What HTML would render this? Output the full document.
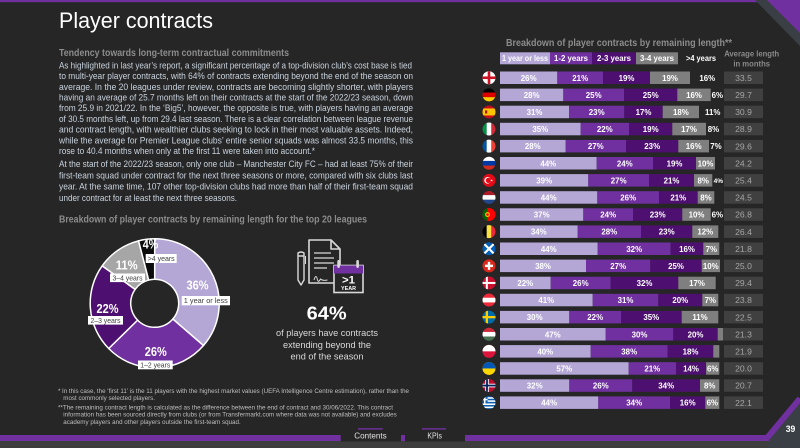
<!DOCTYPE html>
<html><head><meta charset="utf-8"><style>
html,body{margin:0;padding:0;background:#262626;}
svg{display:block;}
text{font-family:"Liberation Sans",Arial,sans-serif;}
.p{font-size:9.4px;fill:#c9d3de;}
.h{font-size:10px;font-weight:bold;fill:#8c8c8c;}
.f{font-size:6.4px;fill:#bfbfbf;}
.b{font-size:7.9px;font-weight:bold;fill:#fff;text-anchor:middle;}
.a{font-size:8.6px;fill:#a6a6a6;text-anchor:middle;}
.lb{font-size:7.4px;fill:#404040;text-anchor:middle;}
.dp{font-size:12.5px;font-weight:bold;fill:#fff;text-anchor:middle;}
</style></head><body>
<svg width="800" height="448" viewBox="0 0 800 448" xmlns="http://www.w3.org/2000/svg">
<defs><clipPath id="fc"><circle cx="0" cy="0" r="6.5"/></clipPath></defs>
<rect width="800" height="448" fill="#262626"/>
<!-- top decoration -->
<rect x="0" y="0" width="758" height="2.2" fill="#7030a0"/>
<polygon points="755,0 800,0 800,46" fill="#3a3f45"/>
<polygon points="767,0 800,0 800,33" fill="#7030a0"/>

<!-- title -->
<text x="59" y="28" font-size="22.3" fill="#ffffff" textLength="154" lengthAdjust="spacingAndGlyphs">Player contracts</text>
<text class="h" x="59" y="56" textLength="230" lengthAdjust="spacingAndGlyphs">Tendency towards long-term contractual commitments</text>

<text class="p" x="59" y="68.4" textLength="353" lengthAdjust="spacingAndGlyphs">As highlighted in last year’s report, a significant percentage of a top-division club’s cost base is tied</text>
<text class="p" x="59" y="79.1" textLength="354" lengthAdjust="spacingAndGlyphs">to multi-year player contracts, with 64% of contracts extending beyond the end of the season on</text>
<text class="p" x="59" y="89.8" textLength="354" lengthAdjust="spacingAndGlyphs">average. In the 20 leagues under review, contracts are becoming slightly shorter, with players</text>
<text class="p" x="59" y="100.5" textLength="354" lengthAdjust="spacingAndGlyphs">having an average of 25.7 months left on their contracts at the start of the 2022/23 season, down</text>
<text class="p" x="59" y="111.2" textLength="354" lengthAdjust="spacingAndGlyphs">from 25.9 in 2021/22. In the ‘Big5’, however, the opposite is true, with players having an average</text>
<text class="p" x="59" y="121.9" textLength="354" lengthAdjust="spacingAndGlyphs">of 30.5 months left, up from 29.4 last season. There is a clear correlation between league revenue</text>
<text class="p" x="59" y="132.6" textLength="354" lengthAdjust="spacingAndGlyphs">and contract length, with wealthier clubs seeking to lock in their most valuable assets. Indeed,</text>
<text class="p" x="59" y="143.3" textLength="354" lengthAdjust="spacingAndGlyphs">while the average for Premier League clubs’ entire senior squads was almost 33.5 months, this</text>
<text class="p" x="59" y="154.0" textLength="256" lengthAdjust="spacingAndGlyphs">rose to 40.4 months when only at the first 11 were taken into account.*</text>
<text class="p" x="59" y="167.2" textLength="354" lengthAdjust="spacingAndGlyphs">At the start of the 2022/23 season, only one club – Manchester City FC – had at least 75% of their</text>
<text class="p" x="59" y="178.4" textLength="354" lengthAdjust="spacingAndGlyphs">first-team squad under contract for the next three seasons or more, compared with six clubs last</text>
<text class="p" x="59" y="189.6" textLength="354" lengthAdjust="spacingAndGlyphs">year. At the same time, 107 other top-division clubs had more than half of their first-team squad</text>
<text class="p" x="59" y="200.8" textLength="178" lengthAdjust="spacingAndGlyphs">under contract for at least the next three seasons.</text>

<text class="h" x="59" y="222.5" textLength="308" lengthAdjust="spacingAndGlyphs">Breakdown of player contracts by remaining length for the top 20 leagues</text>

<!-- donut -->
<g stroke="#ffffff" stroke-width="1.5" stroke-linejoin="round">
<path d="M154.7 238.8 A64.5 64.5 0 0 1 203.46 345.53 L172.84 319.01 A24 24 0 0 0 154.7 279.3 Z" fill="#b4a7d6"/>
<path d="M203.46 345.53 A64.5 64.5 0 0 1 108.69 348.51 L137.58 320.12 A24 24 0 0 0 172.84 319.01 Z" fill="#7030a0"/>
<path d="M108.69 348.51 A64.5 64.5 0 0 1 102.19 265.84 L135.16 289.36 A24 24 0 0 0 137.58 320.12 Z" fill="#4e1070"/>
<path d="M102.19 265.84 A64.5 64.5 0 0 1 138.55 240.86 L148.69 280.07 A24 24 0 0 0 135.16 289.36 Z" fill="#a6a6a6"/>
<path d="M138.55 240.86 A64.5 64.5 0 0 1 154.7 238.8 L154.7 279.3 A24 24 0 0 0 148.69 280.07 Z" fill="#0c0c0c"/>
</g>
<text class="dp" x="197.5" y="289.5" textLength="22" lengthAdjust="spacingAndGlyphs">36%</text>
<text class="dp" x="155.8" y="356.2" textLength="22" lengthAdjust="spacingAndGlyphs">26%</text>
<text class="dp" x="107.5" y="312.8" textLength="22" lengthAdjust="spacingAndGlyphs">22%</text>
<text class="dp" x="126.7" y="269.5" textLength="22" lengthAdjust="spacingAndGlyphs" fill="#f0f0f0">11%</text>
<text class="dp" x="150.5" y="248.5" textLength="15.5" lengthAdjust="spacingAndGlyphs">4%</text>
<rect x="181.7" y="296" width="48.3" height="9.3" fill="#fff"/>
<text class="lb" x="205.8" y="303.2" textLength="44" lengthAdjust="spacingAndGlyphs">1 year or less</text>
<rect x="138" y="360.5" width="34.7" height="8.8" fill="#fff"/>
<text class="lb" x="155.3" y="367.4" textLength="30" lengthAdjust="spacingAndGlyphs">1–2 years</text>
<rect x="88" y="316" width="35" height="8.6" fill="#fff"/>
<text class="lb" x="105.5" y="322.8" textLength="30" lengthAdjust="spacingAndGlyphs">2–3 years</text>
<rect x="110" y="273.5" width="35" height="8.6" fill="#fff"/>
<text class="lb" x="127.5" y="280.3" textLength="30" lengthAdjust="spacingAndGlyphs">3–4 years</text>
<rect x="145.7" y="254" width="31" height="9" fill="#fff"/>
<text class="lb" x="161.2" y="261" textLength="27" lengthAdjust="spacingAndGlyphs">&gt;4 years</text>

<!-- icon -->
<g fill="none" stroke="#d9d9d9" stroke-width="1.6" stroke-linejoin="round">
<path d="M309 240 H331 L340 249 V283 H309 Z"/>
<path d="M331 240 V249 H340"/>
<path d="M314 253 H331 M314 258 H334 M314 263 H334 M314 268 H327" stroke-width="1.3"/>
<path d="M314 280 q2 -7 3.5 0 q1 3 3 -1 q2 2 7 1" stroke-width="1"/>
<path d="M298 256 h6 v24 l-3 5 l-3 -5 z" stroke-width="1.4"/>
<path d="M298 256 v-3 q3 -2 6 0 v3" stroke-width="1.4"/>
<path d="M305.5 256 v8" stroke-width="1"/>
</g>
<rect x="334" y="265.5" width="29" height="27" fill="#262626" stroke="#d9d9d9" stroke-width="1.6"/>
<rect x="334" y="265.5" width="29" height="8" fill="#7030a0"/>
<rect x="337.3" y="260" width="2.6" height="8" rx="1.2" fill="#d9d9d9"/>
<rect x="356.3" y="260" width="2.6" height="8" rx="1.2" fill="#d9d9d9"/>
<text x="348.5" y="283.5" font-size="11" font-weight="bold" fill="#fff" text-anchor="middle" textLength="13" lengthAdjust="spacingAndGlyphs">&gt;1</text>
<text x="348.5" y="290" font-size="5.6" font-weight="bold" fill="#fff" text-anchor="middle" textLength="15" lengthAdjust="spacingAndGlyphs">YEAR</text>

<text x="326.7" y="319.5" font-size="18.5" font-weight="bold" fill="#fff" text-anchor="middle" textLength="40" lengthAdjust="spacingAndGlyphs">64%</text>
<text x="327" y="336" font-size="9.4" fill="#d9d9d9" text-anchor="middle" textLength="102" lengthAdjust="spacingAndGlyphs">of players have contracts</text>
<text x="327" y="348" font-size="9.4" fill="#d9d9d9" text-anchor="middle" textLength="88" lengthAdjust="spacingAndGlyphs">extending beyond the</text>
<text x="327" y="359.5" font-size="9.4" fill="#d9d9d9" text-anchor="middle" textLength="73" lengthAdjust="spacingAndGlyphs">end of the season</text>

<!-- footnotes -->
<text class="f" x="58" y="393">*</text>
<text class="f" x="62" y="393" textLength="347" lengthAdjust="spacingAndGlyphs">In this case, the ‘first 11’ is the 11 players with the highest market values (UEFA Intelligence Centre estimation), rather than the</text>
<text class="f" x="63.3" y="400" textLength="91.7" lengthAdjust="spacingAndGlyphs">most commonly selected players.</text>
<text class="f" x="58" y="409.7" textLength="335" lengthAdjust="spacingAndGlyphs">**The remaining contract length is calculated as the difference between the end of contract and 30/06/2022. This contract</text>
<text class="f" x="63.3" y="416.7" textLength="333.4" lengthAdjust="spacingAndGlyphs">information has been sourced directly from clubs (or from Transfermarkt.com where data was not available) and excludes</text>
<text class="f" x="63.3" y="424" textLength="177.4" lengthAdjust="spacingAndGlyphs">academy players and other players outside the first-team squad.</text>

<!-- right chart header -->
<text class="h" x="506" y="46" textLength="226" lengthAdjust="spacingAndGlyphs">Breakdown of player contracts by  remaining length**</text>
<rect x="500" y="52.3" width="50" height="12" fill="#b4a7d6"/>
<rect x="550" y="52.3" width="42" height="12" fill="#7030a0"/>
<rect x="592" y="52.3" width="44" height="12" fill="#4e1070"/>
<rect x="636" y="52.3" width="42" height="12" fill="#7f7f7f"/>
<text class="b" x="525" y="61.2" textLength="46" lengthAdjust="spacingAndGlyphs">1 year or less</text>
<text class="b" x="571" y="61.2" textLength="34" lengthAdjust="spacingAndGlyphs">1-2 years</text>
<text class="b" x="614" y="61.2" textLength="34" lengthAdjust="spacingAndGlyphs">2-3 years</text>
<text class="b" x="657" y="61.2" textLength="34" lengthAdjust="spacingAndGlyphs">3-4 years</text>
<text class="b" x="701" y="61.2" textLength="30" lengthAdjust="spacingAndGlyphs">&gt;4 years</text>
<text x="751.7" y="56.3" font-size="8.6" font-weight="bold" fill="#8a8a8a" text-anchor="middle" textLength="55" lengthAdjust="spacingAndGlyphs">Average length</text>
<text x="751.7" y="66.3" font-size="8.6" font-weight="bold" fill="#8a8a8a" text-anchor="middle" textLength="36.7" lengthAdjust="spacingAndGlyphs">in months</text>

<!-- rows -->
<!-- 0 England -->
<g transform="translate(0,71.5)">
<g transform="translate(489,6.25)" clip-path="url(#fc)"><rect x="-7" y="-7" width="14" height="14" fill="#fff"/><rect x="-1.3" y="-7" width="2.6" height="14" fill="#ce1124"/><rect x="-7" y="-1.3" width="14" height="2.6" fill="#ce1124"/></g>
<rect x="500" y="0" width="57.3" height="12.5" fill="#b4a7d6"/><rect x="557.3" y="0" width="45.7" height="12.5" fill="#7030a0"/><rect x="603" y="0" width="47" height="12.5" fill="#4e1070"/><rect x="650" y="0" width="40" height="12.5" fill="#7f7f7f"/>
<text class="b" x="528.7" y="9.3">26%</text><text class="b" x="580.2" y="9.3">21%</text><text class="b" x="626.5" y="9.3">19%</text><text class="b" x="670" y="9.3">19%</text><text class="b" x="707.3" y="9.3">16%</text>
<rect x="724" y="0" width="39" height="12.5" fill="#404040"/><text class="a" x="743.5" y="9.4">33.5</text>
</g>
<!-- 1 Germany -->
<g transform="translate(0,88.6)">
<g transform="translate(489,6.25)" clip-path="url(#fc)"><rect x="-7" y="-7" width="14" height="4.7" fill="#000"/><rect x="-7" y="-2.33" width="14" height="4.7" fill="#dd0000"/><rect x="-7" y="2.33" width="14" height="4.7" fill="#ffce00"/></g>
<rect x="500" y="0" width="63.3" height="12.5" fill="#b4a7d6"/><rect x="563.3" y="0" width="60.7" height="12.5" fill="#7030a0"/><rect x="624" y="0" width="53.3" height="12.5" fill="#4e1070"/><rect x="677.3" y="0" width="33.4" height="12.5" fill="#7f7f7f"/>
<text class="b" x="531.7" y="9.3">28%</text><text class="b" x="593.7" y="9.3">25%</text><text class="b" x="650.7" y="9.3">25%</text><text class="b" x="694" y="9.3">16%</text><text class="b" x="717.3" y="9.3">6%</text>
<rect x="724" y="0" width="39" height="12.5" fill="#404040"/><text class="a" x="743.5" y="9.4">29.7</text>
</g>
<!-- 2 Spain -->
<g transform="translate(0,105.7)">
<g transform="translate(489,6.25)" clip-path="url(#fc)"><rect x="-7" y="-7" width="14" height="14" fill="#c60b1e"/><rect x="-7" y="-3.5" width="14" height="7" fill="#ffc400"/><rect x="-4" y="-1.6" width="2.2" height="3.2" fill="#ad1519"/></g>
<rect x="500" y="0" width="69" height="12.5" fill="#b4a7d6"/><rect x="569" y="0" width="55.3" height="12.5" fill="#7030a0"/><rect x="624.3" y="0" width="38.4" height="12.5" fill="#4e1070"/><rect x="662.7" y="0" width="36.3" height="12.5" fill="#7f7f7f"/>
<text class="b" x="534.5" y="9.3">31%</text><text class="b" x="596.7" y="9.3">23%</text><text class="b" x="643.5" y="9.3">17%</text><text class="b" x="680.9" y="9.3">18%</text><text class="b" x="712.7" y="9.3">11%</text>
<rect x="724" y="0" width="39" height="12.5" fill="#404040"/><text class="a" x="743.5" y="9.4">30.9</text>
</g>
<!-- 3 Italy -->
<g transform="translate(0,122.8)">
<g transform="translate(489,6.25)" clip-path="url(#fc)"><rect x="-7" y="-7" width="4.7" height="14" fill="#009246"/><rect x="-2.33" y="-7" width="4.7" height="14" fill="#fff"/><rect x="2.33" y="-7" width="4.7" height="14" fill="#ce2b37"/></g>
<rect x="500" y="0" width="80.7" height="12.5" fill="#b4a7d6"/><rect x="580.7" y="0" width="48.3" height="12.5" fill="#7030a0"/><rect x="629" y="0" width="43.3" height="12.5" fill="#4e1070"/><rect x="672.3" y="0" width="33.7" height="12.5" fill="#7f7f7f"/>
<text class="b" x="540.3" y="9.3">35%</text><text class="b" x="604.8" y="9.3">22%</text><text class="b" x="650.7" y="9.3">19%</text><text class="b" x="689" y="9.3">17%</text><text class="b" x="713.5" y="9.3">8%</text>
<rect x="724" y="0" width="39" height="12.5" fill="#404040"/><text class="a" x="743.5" y="9.4">28.9</text>
</g>
<!-- 4 France -->
<g transform="translate(0,139.9)">
<g transform="translate(489,6.25)" clip-path="url(#fc)"><rect x="-7" y="-7" width="4.7" height="14" fill="#0055a4"/><rect x="-2.33" y="-7" width="4.7" height="14" fill="#fff"/><rect x="2.33" y="-7" width="4.7" height="14" fill="#ef4135"/></g>
<rect x="500" y="0" width="65.7" height="12.5" fill="#b4a7d6"/><rect x="565.7" y="0" width="60.3" height="12.5" fill="#7030a0"/><rect x="626" y="0" width="52.3" height="12.5" fill="#4e1070"/><rect x="678.3" y="0" width="30.7" height="12.5" fill="#7f7f7f"/>
<text class="b" x="532.8" y="9.3">28%</text><text class="b" x="595.8" y="9.3">27%</text><text class="b" x="652.2" y="9.3">23%</text><text class="b" x="693.7" y="9.3">16%</text><text class="b" x="716" y="9.3">7%</text>
<rect x="724" y="0" width="39" height="12.5" fill="#404040"/><text class="a" x="743.5" y="9.4">29.6</text>
</g>
<!-- 5 Russia -->
<g transform="translate(0,157)">
<g transform="translate(489,6.25)" clip-path="url(#fc)"><rect x="-7" y="-7" width="14" height="4.7" fill="#fff"/><rect x="-7" y="-2.33" width="14" height="4.7" fill="#0039a6"/><rect x="-7" y="2.33" width="14" height="4.7" fill="#d52b1e"/></g>
<rect x="500" y="0" width="96.7" height="12.5" fill="#b4a7d6"/><rect x="596.7" y="0" width="56.3" height="12.5" fill="#7030a0"/><rect x="653" y="0" width="43" height="12.5" fill="#4e1070"/><rect x="696" y="0" width="19" height="12.5" fill="#7f7f7f"/>
<text class="b" x="548.3" y="9.3">44%</text><text class="b" x="624.8" y="9.3">24%</text><text class="b" x="674.5" y="9.3">19%</text><text class="b" x="705.5" y="9.3">10%</text>
<rect x="724" y="0" width="39" height="12.5" fill="#404040"/><text class="a" x="743.5" y="9.4">24.2</text>
</g>
<!-- 6 Turkey -->
<g transform="translate(0,174.1)">
<g transform="translate(489,6.25)" clip-path="url(#fc)"><rect x="-7" y="-7" width="14" height="14" fill="#e30a17"/><circle cx="-1.4" cy="0" r="3.3" fill="#fff"/><circle cx="-0.6" cy="0" r="2.65" fill="#e30a17"/><polygon points="2.6,-1.3 2.95,-0.4 3.9,-0.4 3.15,0.2 3.45,1.1 2.6,0.55 1.75,1.1 2.05,0.2 1.3,-0.4 2.25,-0.4" fill="#fff"/></g>
<rect x="500" y="0" width="88.3" height="12.5" fill="#b4a7d6"/><rect x="588.3" y="0" width="60.7" height="12.5" fill="#7030a0"/><rect x="649" y="0" width="45" height="12.5" fill="#4e1070"/><rect x="694" y="0" width="18.3" height="12.5" fill="#7f7f7f"/>
<text class="b" x="544.2" y="9.3">39%</text><text class="b" x="618.7" y="9.3">27%</text><text class="b" x="671.5" y="9.3">21%</text><text class="b" x="703.2" y="9.3">8%</text><text class="b" x="718.3" y="9" style="font-size:6.5px">4%</text>
<rect x="724" y="0" width="39" height="12.5" fill="#404040"/><text class="a" x="743.5" y="9.4">25.4</text>
</g>
<!-- 7 Netherlands -->
<g transform="translate(0,191.2)">
<g transform="translate(489,6.25)" clip-path="url(#fc)"><rect x="-7" y="-7" width="14" height="4.7" fill="#ae1c28"/><rect x="-7" y="-2.33" width="14" height="4.7" fill="#fff"/><rect x="-7" y="2.33" width="14" height="4.7" fill="#21468b"/></g>
<rect x="500" y="0" width="97.3" height="12.5" fill="#b4a7d6"/><rect x="597.3" y="0" width="61.7" height="12.5" fill="#7030a0"/><rect x="659" y="0" width="38.7" height="12.5" fill="#4e1070"/><rect x="697.7" y="0" width="16.6" height="12.5" fill="#7f7f7f"/>
<text class="b" x="548.7" y="9.3">44%</text><text class="b" x="628.2" y="9.3">26%</text><text class="b" x="678.3" y="9.3">21%</text><text class="b" x="706" y="9.3">8%</text>
<rect x="724" y="0" width="39" height="12.5" fill="#404040"/><text class="a" x="743.5" y="9.4">24.5</text>
</g>
<!-- 8 Portugal -->
<g transform="translate(0,208.3)">
<g transform="translate(489,6.25)" clip-path="url(#fc)"><rect x="-7" y="-7" width="14" height="14" fill="#ff0000"/><rect x="-7" y="-7" width="5.5" height="14" fill="#006600"/><circle cx="-1.5" cy="0" r="2.4" fill="#ffcc00"/><circle cx="-1.5" cy="0" r="1.3" fill="#ff0000"/></g>
<rect x="500" y="0" width="83.3" height="12.5" fill="#b4a7d6"/><rect x="583.3" y="0" width="49.7" height="12.5" fill="#7030a0"/><rect x="633" y="0" width="49.3" height="12.5" fill="#4e1070"/><rect x="682.3" y="0" width="28.4" height="12.5" fill="#7f7f7f"/>
<text class="b" x="541.7" y="9.3">37%</text><text class="b" x="608.2" y="9.3">24%</text><text class="b" x="657.7" y="9.3">23%</text><text class="b" x="696.5" y="9.3">10%</text><text class="b" x="717.3" y="9.3">6%</text>
<rect x="724" y="0" width="39" height="12.5" fill="#404040"/><text class="a" x="743.5" y="9.4">26.8</text>
</g>
<!-- 9 Belgium -->
<g transform="translate(0,225.4)">
<g transform="translate(489,6.25)" clip-path="url(#fc)"><rect x="-7" y="-7" width="4.7" height="14" fill="#000"/><rect x="-2.33" y="-7" width="4.7" height="14" fill="#fae042"/><rect x="2.33" y="-7" width="4.7" height="14" fill="#ed2939"/></g>
<rect x="500" y="0" width="77.7" height="12.5" fill="#b4a7d6"/><rect x="577.7" y="0" width="63.3" height="12.5" fill="#7030a0"/><rect x="641" y="0" width="51.3" height="12.5" fill="#4e1070"/><rect x="692.3" y="0" width="26" height="12.5" fill="#7f7f7f"/>
<text class="b" x="538.8" y="9.3">34%</text><text class="b" x="609.3" y="9.3">28%</text><text class="b" x="666.7" y="9.3">23%</text><text class="b" x="705.3" y="9.3">12%</text>
<rect x="724" y="0" width="39" height="12.5" fill="#404040"/><text class="a" x="743.5" y="9.4">26.4</text>
</g>
<!-- 10 Scotland -->
<g transform="translate(0,242.5)">
<g transform="translate(489,6.25)" clip-path="url(#fc)"><rect x="-7" y="-7" width="14" height="14" fill="#005eb8"/><path d="M-7 -7 L7 7 M-7 7 L7 -7" stroke="#fff" stroke-width="2.2"/></g>
<rect x="500" y="0" width="97.7" height="12.5" fill="#b4a7d6"/><rect x="597.7" y="0" width="73" height="12.5" fill="#7030a0"/><rect x="670.7" y="0" width="32.6" height="12.5" fill="#4e1070"/><rect x="703.3" y="0" width="16" height="12.5" fill="#7f7f7f"/>
<text class="b" x="548.8" y="9.3">44%</text><text class="b" x="634.2" y="9.3">32%</text><text class="b" x="687" y="9.3">16%</text><text class="b" x="711.3" y="9.3">7%</text>
<rect x="724" y="0" width="39" height="12.5" fill="#404040"/><text class="a" x="743.5" y="9.4">21.8</text>
</g>
<!-- 11 Switzerland -->
<g transform="translate(0,259.6)">
<g transform="translate(489,6.25)" clip-path="url(#fc)"><rect x="-7" y="-7" width="14" height="14" fill="#da291c"/><rect x="-1.2" y="-4" width="2.4" height="8" fill="#fff"/><rect x="-4" y="-1.2" width="8" height="2.4" fill="#fff"/></g>
<rect x="500" y="0" width="86" height="12.5" fill="#b4a7d6"/><rect x="586" y="0" width="64.3" height="12.5" fill="#7030a0"/><rect x="650.3" y="0" width="51.4" height="12.5" fill="#4e1070"/><rect x="701.7" y="0" width="18.3" height="12.5" fill="#7f7f7f"/>
<text class="b" x="543" y="9.3">38%</text><text class="b" x="618.2" y="9.3">27%</text><text class="b" x="676" y="9.3">25%</text><text class="b" x="710.8" y="9.3">10%</text>
<rect x="724" y="0" width="39" height="12.5" fill="#404040"/><text class="a" x="743.5" y="9.4">25.0</text>
</g>
<!-- 12 Denmark -->
<g transform="translate(0,276.7)">
<g transform="translate(489,6.25)" clip-path="url(#fc)"><rect x="-7" y="-7" width="14" height="14" fill="#c8102e"/><rect x="-3.2" y="-7" width="2" height="14" fill="#fff"/><rect x="-7" y="-1" width="14" height="2" fill="#fff"/></g>
<rect x="500" y="0" width="50.7" height="12.5" fill="#b4a7d6"/><rect x="550.7" y="0" width="60" height="12.5" fill="#7030a0"/><rect x="610.7" y="0" width="67.6" height="12.5" fill="#4e1070"/><rect x="678.3" y="0" width="37.4" height="12.5" fill="#7f7f7f"/>
<text class="b" x="525.3" y="9.3">22%</text><text class="b" x="580.7" y="9.3">26%</text><text class="b" x="644.5" y="9.3">32%</text><text class="b" x="697" y="9.3">17%</text>
<rect x="724" y="0" width="39" height="12.5" fill="#404040"/><text class="a" x="743.5" y="9.4">29.4</text>
</g>
<!-- 13 Austria -->
<g transform="translate(0,293.8)">
<g transform="translate(489,6.25)" clip-path="url(#fc)"><rect x="-7" y="-7" width="14" height="14" fill="#ed2939"/><rect x="-7" y="-2.33" width="14" height="4.7" fill="#fff"/></g>
<rect x="500" y="0" width="92.7" height="12.5" fill="#b4a7d6"/><rect x="592.7" y="0" width="65.6" height="12.5" fill="#7030a0"/><rect x="658.3" y="0" width="44" height="12.5" fill="#4e1070"/><rect x="702.3" y="0" width="16" height="12.5" fill="#7f7f7f"/>
<text class="b" x="546.3" y="9.3">41%</text><text class="b" x="625.5" y="9.3">31%</text><text class="b" x="680.3" y="9.3">20%</text><text class="b" x="710.3" y="9.3">7%</text>
<rect x="724" y="0" width="39" height="12.5" fill="#404040"/><text class="a" x="743.5" y="9.4">23.8</text>
</g>
<!-- 14 Sweden -->
<g transform="translate(0,310.9)">
<g transform="translate(489,6.25)" clip-path="url(#fc)"><rect x="-7" y="-7" width="14" height="14" fill="#006aa7"/><rect x="-3.3" y="-7" width="2.3" height="14" fill="#fecc00"/><rect x="-7" y="-1.15" width="14" height="2.3" fill="#fecc00"/></g>
<rect x="500" y="0" width="69.3" height="12.5" fill="#b4a7d6"/><rect x="569.3" y="0" width="51.7" height="12.5" fill="#7030a0"/><rect x="621" y="0" width="60.7" height="12.5" fill="#4e1070"/><rect x="681.7" y="0" width="36.6" height="12.5" fill="#7f7f7f"/>
<text class="b" x="534.7" y="9.3">30%</text><text class="b" x="595.2" y="9.3">22%</text><text class="b" x="651.3" y="9.3">35%</text><text class="b" x="700" y="9.3">11%</text>
<rect x="724" y="0" width="39" height="12.5" fill="#404040"/><text class="a" x="743.5" y="9.4">22.5</text>
</g>
<!-- 15 Hungary -->
<g transform="translate(0,328)">
<g transform="translate(489,6.25)" clip-path="url(#fc)"><rect x="-7" y="-7" width="14" height="4.7" fill="#ce2939"/><rect x="-7" y="-2.33" width="14" height="4.7" fill="#fff"/><rect x="-7" y="2.33" width="14" height="4.7" fill="#477050"/></g>
<rect x="500" y="0" width="105.7" height="12.5" fill="#b4a7d6"/><rect x="605.7" y="0" width="67.6" height="12.5" fill="#7030a0"/><rect x="673.3" y="0" width="44.4" height="12.5" fill="#4e1070"/><rect x="717.7" y="0" width="5.6" height="12.5" fill="#7f7f7f"/>
<text class="b" x="552.8" y="9.3">47%</text><text class="b" x="639.5" y="9.3">30%</text><text class="b" x="695.5" y="9.3">20%</text>
<rect x="724" y="0" width="39" height="12.5" fill="#404040"/><text class="a" x="743.5" y="9.4">21.3</text>
</g>
<!-- 16 Poland -->
<g transform="translate(0,345.1)">
<g transform="translate(489,6.25)" clip-path="url(#fc)"><rect x="-7" y="-7" width="14" height="14" fill="#dc143c"/><rect x="-7" y="-7" width="14" height="7" fill="#fff"/></g>
<rect x="500" y="0" width="90.7" height="12.5" fill="#b4a7d6"/><rect x="590.7" y="0" width="77" height="12.5" fill="#7030a0"/><rect x="667.7" y="0" width="45.6" height="12.5" fill="#4e1070"/><rect x="713.3" y="0" width="6" height="12.5" fill="#7f7f7f"/>
<text class="b" x="545.3" y="9.3">40%</text><text class="b" x="629.2" y="9.3">38%</text><text class="b" x="690.5" y="9.3">18%</text>
<rect x="724" y="0" width="39" height="12.5" fill="#404040"/><text class="a" x="743.5" y="9.4">21.9</text>
</g>
<!-- 17 Ukraine -->
<g transform="translate(0,362.2)">
<g transform="translate(489,6.25)" clip-path="url(#fc)"><rect x="-7" y="-7" width="14" height="14" fill="#ffd700"/><rect x="-7" y="-7" width="14" height="7" fill="#0057b7"/></g>
<rect x="500" y="0" width="128.7" height="12.5" fill="#b4a7d6"/><rect x="628.7" y="0" width="47.3" height="12.5" fill="#7030a0"/><rect x="676" y="0" width="30" height="12.5" fill="#4e1070"/><rect x="706" y="0" width="13.3" height="12.5" fill="#7f7f7f"/>
<text class="b" x="564.3" y="9.3">57%</text><text class="b" x="652.3" y="9.3">21%</text><text class="b" x="691" y="9.3">14%</text><text class="b" x="712.7" y="9.3">6%</text>
<rect x="724" y="0" width="39" height="12.5" fill="#404040"/><text class="a" x="743.5" y="9.4">20.0</text>
</g>
<!-- 18 Norway -->
<g transform="translate(0,379.3)">
<g transform="translate(489,6.25)" clip-path="url(#fc)"><rect x="-7" y="-7" width="14" height="14" fill="#ba0c2f"/><rect x="-3.8" y="-7" width="3.6" height="14" fill="#fff"/><rect x="-7" y="-1.8" width="14" height="3.6" fill="#fff"/><rect x="-2.9" y="-7" width="1.8" height="14" fill="#00205b"/><rect x="-7" y="-0.9" width="14" height="1.8" fill="#00205b"/></g>
<rect x="500" y="0" width="69.3" height="12.5" fill="#b4a7d6"/><rect x="569.3" y="0" width="63" height="12.5" fill="#7030a0"/><rect x="632.3" y="0" width="67.7" height="12.5" fill="#4e1070"/><rect x="700" y="0" width="19.3" height="12.5" fill="#7f7f7f"/>
<text class="b" x="534.7" y="9.3">32%</text><text class="b" x="600.8" y="9.3">26%</text><text class="b" x="666.2" y="9.3">34%</text><text class="b" x="709.7" y="9.3">8%</text>
<rect x="724" y="0" width="39" height="12.5" fill="#404040"/><text class="a" x="743.5" y="9.4">20.7</text>
</g>
<!-- 19 Greece -->
<g transform="translate(0,396.4)">
<g transform="translate(489,6.25)" clip-path="url(#fc)"><rect x="-7" y="-7" width="14" height="14" fill="#0d5eaf"/><rect x="-7" y="-5.45" width="14" height="1.55" fill="#fff"/><rect x="-7" y="-2.33" width="14" height="1.55" fill="#fff"/><rect x="-7" y="0.78" width="14" height="1.55" fill="#fff"/><rect x="-7" y="3.9" width="14" height="1.55" fill="#fff"/><rect x="-7" y="-7" width="5.6" height="7.8" fill="#0d5eaf"/><rect x="-5" y="-7" width="1.5" height="7.8" fill="#fff"/><rect x="-7" y="-3.85" width="5.6" height="1.5" fill="#fff"/></g>
<rect x="500" y="0" width="98.3" height="12.5" fill="#b4a7d6"/><rect x="598.3" y="0" width="71.7" height="12.5" fill="#7030a0"/><rect x="670" y="0" width="35.3" height="12.5" fill="#4e1070"/><rect x="705.3" y="0" width="14" height="12.5" fill="#7f7f7f"/>
<text class="b" x="549.2" y="9.3">44%</text><text class="b" x="634.2" y="9.3">34%</text><text class="b" x="687.7" y="9.3">16%</text><text class="b" x="712.3" y="9.3">6%</text>
<rect x="724" y="0" width="39" height="12.5" fill="#404040"/><text class="a" x="743.5" y="9.4">22.1</text>
</g>

<!-- bottom decoration -->
<rect x="0" y="441" width="800" height="7" fill="#3d3d3d"/>
<polygon points="768,441 800,403 800,448 768,448" fill="#3a3f45"/>
<polyline points="0,438 767,438 800,398.5" fill="none" stroke="#7030a0" stroke-width="6"/>
<rect x="340.7" y="434" width="60.3" height="7.5" fill="#262626"/>
<rect x="405" y="434" width="60" height="7.5" fill="#262626"/>
<rect x="358" y="428.2" width="24.7" height="1.4" fill="#7030a0"/>
<rect x="422" y="428.2" width="24" height="1.4" fill="#7030a0"/>
<text x="370.5" y="438.3" font-size="8.6" fill="#e0e0e0" text-anchor="middle" textLength="32.4" lengthAdjust="spacingAndGlyphs">Contents</text>
<text x="434.7" y="438.3" font-size="8.6" fill="#e0e0e0" text-anchor="middle" textLength="14.7" lengthAdjust="spacingAndGlyphs">KPIs</text>
<text x="790.5" y="432" font-size="9" font-weight="bold" fill="#fff" text-anchor="middle" textLength="9.5" lengthAdjust="spacingAndGlyphs">39</text>
</svg>
</body></html>
